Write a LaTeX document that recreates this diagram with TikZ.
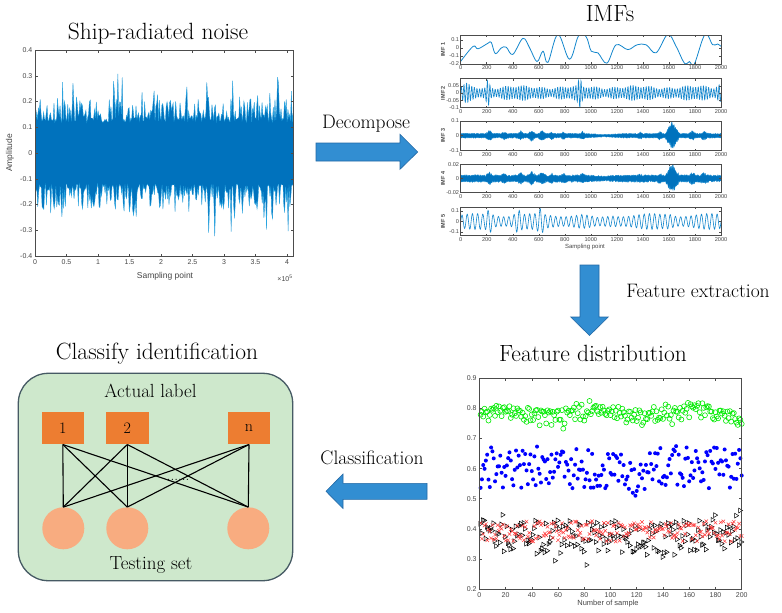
\documentclass[tikz,border=0pt]{standalone}
\usepackage{fontspec}
\newfontfamily\ticksf{Liberation Sans}
\definecolor{mblue}{RGB}{0,114,189}
\definecolor{nlight}{RGB}{40,165,225}
\definecolor{imfblue}{RGB}{20,135,205}
\definecolor{arrowfill}{RGB}{50,142,210}
\definecolor{arrowedge}{RGB}{35,105,165}
\definecolor{boxgreen}{RGB}{206,232,204}
\definecolor{boxedge}{RGB}{70,90,100}
\definecolor{sqorange}{RGB}{237,125,49}
\definecolor{circsalmon}{RGB}{248,172,128}
\definecolor{mgreen}{RGB}{0,235,0}
\definecolor{mred}{RGB}{255,60,60}
\definecolor{tickgray}{RGB}{70,70,70}
\tikzset{
  title/.style={font=\fontsize{23.5}{26}\selectfont, inner sep=0pt},
  lab/.style={font=\fontsize{19.5}{22}\selectfont, inner sep=0pt},
  tick/.style={font=\ticksf\fontsize{7}{8}\selectfont, text=tickgray, inner sep=1pt},
  smalltick/.style={font=\ticksf\fontsize{5.6}{6}\selectfont, text=tickgray, inner sep=0.6pt},
  axlab/.style={font=\ticksf\fontsize{8.5}{9}\selectfont, text=tickgray, inner sep=0pt},
  axbox/.style={draw=black!70, line width=0.5pt},
  barrow/.style={fill=arrowfill, draw=arrowedge, line width=0.6pt, line join=miter},
  labsq/.style={fill=sqorange, minimum width=42.5pt, minimum height=32.6pt, inner sep=0pt, font=\fontsize{16}{16}\selectfont},
  testc/.style={circle, fill=circsalmon, minimum size=42pt, inner sep=0pt},
  link/.style={line width=1.1pt, black},
}
\newcommand{\imfaxes}[4]{%
  \draw[axbox] (0,#1) rectangle (2000,#2);
  \foreach \t in {0,200,...,2000}{
    \draw[axbox] (\t,#1) -- ++(0pt,1.8pt);
    \draw[axbox] (\t,#2) -- ++(0pt,-1.8pt);
    \node[smalltick,anchor=north] at ([yshift=-1.2pt]\t,#1) {\t};
  }
  \foreach \v in {#3}{
    \draw[axbox] (0,\v) -- ++(1.8pt,0pt);
    \draw[axbox] (2000,\v) -- ++(-1.8pt,0pt);
    \node[smalltick,anchor=east] at ([xshift=-0.8pt]0,\v) {\v};
  }
  \node[smalltick, font=\ticksf\bfseries\fontsize{5.5}{6}\selectfont, rotate=90] at (-136,{(#1+#2)/2}) {#4};
}
\begin{document}
\begin{tikzpicture}[x=1pt,y=-1pt,
  declare function={bump(\u,\m,\w)=max(0,1-abs(\u-\m)/\w);
    envA(\u)=0.017+0.025*bump(\u,220,25)+0.012*bump(\u,335,25)+0.018*bump(\u,460,25)+0.025*bump(\u,545,30)+0.022*bump(\u,625,30)+0.014*bump(\u,700,20)+0.012*bump(\u,790,20)+0.015*bump(\u,935,20)+0.01*bump(\u,1380,20)+0.015*bump(\u,1530,20)+0.085*bump(\u,1625,55)+0.02*bump(\u,1780,30)+0.016*bump(\u,1870,30)-0.008*bump(\u,1100,150);}]
\fill[white] (0,0) rectangle (782,613);
\useasboundingbox (0,0) rectangle (782,613);

% ---------- titles and labels ----------
\node[title] (t1) at (158,34) {Ship-radiated noise};
\node[title] (t2) at (610,13.5) {IMFs};
\node[title] (t3) at (593,353.5) {Feature distribution};
\node[title] (t4) at (157,354) {Classify identification};
\node[lab] (l1) at (366,124) {Decompose};
\node[lab] (l2) at (698,291) {Feature extraction};
\node[lab] (l3) at (372,458) {Classification};

% ---------- ship-radiated noise plot ----------
\begin{scope}[shift={(35,153)}, x=63pt, y=257.5pt]
  \pgfmathsetseed{11}
  \begin{scope}
    \clip (0,-0.4) rectangle (4.1,0.4);
    \filldraw[fill=mblue, draw=nlight, line width=0.35pt]
      plot[domain=0:4.1,samples=300] (\x,{0.12+0.1*rnd^2+0.12*rnd^14})
      -- plot[domain=4.1:0,samples=300] (\x,{-0.12-0.1*rnd^2-0.12*rnd^14}) -- cycle;
    \fill[mblue] plot[domain=0:4.1,samples=200] (\x,{0.1+0.04*rnd})
      -- plot[domain=4.1:0,samples=200] (\x,{-0.1-0.04*rnd}) -- cycle;
  \end{scope}
  \draw[axbox] (0,-0.4) rectangle (4.1,0.4);
  \foreach \v in {-0.4,-0.3,-0.2,-0.1,0,0.1,0.2,0.3,0.4}{
    \draw[axbox] (0,\v) -- ++(2.5pt,0pt);
    \draw[axbox] (4.1,\v) -- ++(-2.5pt,0pt);
    \node[tick,anchor=east] at ([xshift=-1.5pt]0,\v) {\v};
  }
  \foreach \v in {0,0.5,1,1.5,2,2.5,3,3.5,4}{
    \draw[axbox] (\v,-0.4) -- ++(0pt,2.5pt);
    \draw[axbox] (\v,0.4) -- ++(0pt,-2.5pt);
    \node[tick,anchor=north] at ([yshift=-2pt]\v,-0.4) {\v};
  }
\end{scope}
\node[axlab, rotate=90] (ampl) at (10,153) {Amplitude};
\node[axlab] (sp1) at (165,276) {Sampling point};
\node[tick] (exp1) at (285,278) {×10\textsuperscript{5}};

% ---------- IMFs ----------
\begin{scope}[shift={(460.7,48)}, x=0.13015pt, y=80pt]
  \begin{scope}
    \clip (0,-0.2) rectangle (2000,0.16);
    \draw[imfblue, line width=0.8pt] plot[smooth, tension=0.6] coordinates {
      (0,-0.167) (95,0.02) (133,-0.01) (210,0.06) (235,0.07) (266,-0.07) (312,0) (350,0.01)
      (400,-0.08) (478,0.12) (530,0) (586,-0.17) (632,-0.04) (670,-0.18) (747,0.17)
      (836,-0.14) (905,0.15) (964,0.14) (1003,-0.04) (1054,-0.06) (1123,-0.19) (1194,0.04)
      (1284,-0.02) (1355,0.04) (1425,0.04) (1501,-0.06) (1591,0.17) (1655,0.02) (1719,-0.19)
      (1757,-0.17) (1795,-0.2) (1877,0.17) (1936,0.04) (1974,0.05) (2000,0.02)};
  \end{scope}
  \imfaxes{-0.2}{0.16}{-0.2,-0.1,0,0.1}{IMF 1}
\end{scope}
\begin{scope}[shift={(460.7,93)}, x=0.13015pt, y=143pt]
  \begin{scope}
    \clip (0,-0.1) rectangle (2000,0.1);
    \draw[imfblue, line width=0.6pt] plot[domain=0:2000, samples=1001]
      (\x,{(0.04+0.015*sin(\x*1.7)*sin(\x*0.9)+0.06*bump(\x,210,22)+0.065*bump(\x,915,22)+0.025*bump(\x,40,40)+0.025*bump(\x,1990,40))*sin(mod(\x,20)*18)});
  \end{scope}
  \imfaxes{-0.1}{0.1}{-0.1,-0.05,0,0.05}{IMF 2}
\end{scope}
\begin{scope}[shift={(460.7,135.7)}, x=0.13015pt, y=147pt]
  \pgfmathsetseed{3}
  \begin{scope}
    \clip (0,-0.1) rectangle (2000,0.1);
    \filldraw[fill=mblue, draw=imfblue, line width=0.3pt]
      plot[domain=0:2000,samples=500] (\x,{envA(\x)*(0.55+0.45*rnd)})
      -- plot[domain=2000:0,samples=500] (\x,{-envA(\x)*(0.55+0.45*rnd)}) -- cycle;
  \end{scope}
  \imfaxes{-0.1}{0.1}{-0.1,0,0.1}{IMF 3}
\end{scope}
\begin{scope}[shift={(460.7,178.5)}, x=0.13015pt, y=710pt]
  \pgfmathsetseed{5}
  \begin{scope}
    \clip (0,-0.02) rectangle (2000,0.02);
    \filldraw[fill=mblue, draw=imfblue, line width=0.3pt]
      plot[domain=0:2000,samples=500] (\x,{(0.002+0.2*envA(\x))*(0.55+0.45*rnd)})
      -- plot[domain=2000:0,samples=500] (\x,{-(0.002+0.2*envA(\x))*(0.55+0.45*rnd)}) -- cycle;
  \end{scope}
  \imfaxes{-0.02}{0.02}{-0.02,0,0.02}{IMF 4}
\end{scope}
\begin{scope}[shift={(460.7,221.5)}, x=0.13015pt, y=105pt]
  \begin{scope}
    \clip (0,-0.135) rectangle (2000,0.135);
    \draw[imfblue, line width=0.6pt] plot[domain=0:2000, samples=801]
      (\x,{(0.06+0.015*sin(\x*0.8)+0.06*bump(\x,220,35)+0.06*bump(\x,440,40)+0.06*bump(\x,615,35)-0.035*bump(\x,1050,120)+0.015*bump(\x,1600,60))*sin(mod(\x,40)*9)});
  \end{scope}
  \imfaxes{-0.135}{0.135}{-0.1,0,0.1}{IMF 5}
\end{scope}
\node[smalltick, font=\ticksf\fontsize{6}{6}\selectfont] (sp2) at (585,247) {Sampling point};

% ---------- feature distribution ----------
\begin{scope}[shift={(479.3,649.2)}, x=1.312pt, y=301pt]
  \pgfmathsetseed{7}
  \foreach \i in {1,...,200}{
    \pgfmathsetmacro\yg{0.782+0.012*sin(\i*5)+0.026*rand+0.03*rand*rand*rand}
    \draw[mgreen, line width=0.6pt] (\i,\yg) circle[radius=2.5pt];
  }
  \foreach \i in {1,...,200}{
    \pgfmathsetmacro\yb{0.605+0.07*rand-0.05*bump(\i,118,10)}
    \fill[blue] (\i,\yb) circle[radius=2pt];
  }
  \foreach \i in {1,...,200}{
    \pgfmathsetmacro\yk{0.375+0.055*rand+0.07*rand*rand*rand}
    \draw[black, line width=0.5pt] (\i,\yk) ++(-1.8pt,2.4pt) -- ++(0pt,-4.8pt) -- ++(4pt,2.4pt) -- cycle;
  }
  \foreach \i in {1,...,200}{
    \pgfmathsetmacro\yr{0.392+0.034*rand}
    \draw[mred, line width=0.5pt] (\i,\yr) ++(-1.7pt,-1.7pt) -- ++(3.4pt,3.4pt) ++(-3.4pt,0pt) -- ++(3.4pt,-3.4pt);
  }
  \draw[axbox] (0,0.2) rectangle (200,0.9);
  \foreach \v in {0.2,0.3,0.4,0.5,0.6,0.7,0.8,0.9}{
    \draw[axbox] (0,\v) -- ++(2.5pt,0pt);
    \draw[axbox] (200,\v) -- ++(-2.5pt,0pt);
    \node[tick,anchor=east] at ([xshift=-1.5pt]0,\v) {\v};
  }
  \foreach \v in {0,20,...,200}{
    \draw[axbox] (\v,0.2) -- ++(0pt,2.5pt);
    \draw[axbox] (\v,0.9) -- ++(0pt,-2.5pt);
    \node[tick,anchor=north] at ([yshift=-2pt]\v,0.2) {\v};
  }
\end{scope}
\node[axlab, font=\ticksf\fontsize{7.5}{8}\selectfont] (nos) at (608,603.5) {Number of sample};

% ---------- block arrows ----------
\draw[barrow] (316,143) -- (400,143) -- (400,134.3) -- (417.7,152) -- (400,169.3) -- (400,161) -- (316,161) -- cycle;
\draw[barrow] (580,265) -- (599,265) -- (599,317) -- (608.3,317) -- (589.5,335.5) -- (570.7,317) -- (580,317) -- cycle;
\draw[barrow] (427,483.3) -- (343,483.3) -- (343,474) -- (326,491.3) -- (343,508.5) -- (343,499.3) -- (427,499.3) -- cycle;

% ---------- classify identification ----------
\draw[draw=boxedge, fill=boxgreen, line width=1.3pt, rounded corners=30pt] (18.3,373.3) rectangle (292.7,580.7);
\node[lab, font=\fontsize{19}{22}\selectfont] (al) at (150.5,390.5) {Actual label};
\node[lab, font=\fontsize{19}{22}\selectfont] (ts) at (151,565) {Testing set};
\node[labsq] (s1) at (62.8,428) {1};
\node[labsq] (s2) at (127.3,428) {2};
\node[labsq] (sn) at (249,428) {n};
\node[testc] (c1) at (63.3,528.3) {};
\node[testc] (c2) at (127.3,528.3) {};
\node[testc] (c3) at (248.3,528.3) {};
\foreach \a in {s1,s2,sn}{
  \foreach \b in {c1,c2,c3}{
    \draw[link] (\a.south) -- (\b.north);
  }
}
\node[font=\fontsize{15}{15}\selectfont, inner sep=0pt] (dots) at (178,480) {......};
\end{tikzpicture}
\end{document}
